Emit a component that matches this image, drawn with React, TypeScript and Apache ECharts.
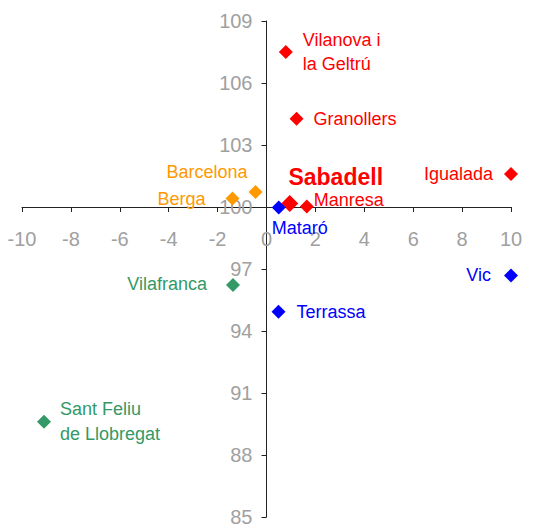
import React, { useEffect, useRef } from "react";
import * as echarts from "echarts";

// Data
const cities = [
  "Vilanova i\nla Geltrú",
  "Granollers",
  "Igualada",
  "Sabadell",
  "Manresa",
  "Mataró",
  "Barcelona",
  "Berga",
  "Vilafranca",
  "Terrassa",
  "Vic",
  "Sant Feliu\nde Llobregat",
];
const xValues = [0.79, 1.23, 10.0, 0.95, 1.65, 0.5, -0.45, -1.39, -1.37, 0.49, 10.0, -9.1];
const yValues = [107.5, 104.27, 101.6, 100.17, 100.02, 99.98, 100.73, 100.41, 96.22, 94.93, 96.69, 89.61];
const groups = ["red", "red", "red", "red", "red", "blue", "orange", "orange", "green", "blue", "blue", "green"];

const xTicks = { min: -10, max: 10, step: 2, cross: 0 };
const yTicks = { min: 85, max: 109, step: 3, cross: 100 };

const COLORS: Record<string, string> = {
  red: "#ff0000",
  orange: "#ff9900",
  blue: "#0000ff",
  green: "#339966",
};

const FONT = "Arial, 'Liberation Sans', sans-serif";

const W = 558;
const H = 525;
const GRID = { left: 22, right: 47, top: 21, bottom: 8 };

// label placement per city (style only)
const labelStyle: Record<string, any> = {
  "Vilanova i\nla Geltrú": { position: "right", distance: 10, lineHeight: 24 },
  Granollers: { position: "right", distance: 10 },
  Igualada: { position: "left", distance: 11 },
  Sabadell: { position: "top", distance: 6, offset: [46, 0], fontSize: 23, fontWeight: "bold" },
  Manresa: { position: "right", distance: 0, offset: [0, -7] },
  "Mataró": { position: "bottom", distance: 5, offset: [21, 0] },
  Barcelona: { position: "left", distance: 1, offset: [0, -20] },
  Berga: { position: "left", distance: 20 },
  Vilafranca: { position: "left", distance: 19, offset: [0, -1] },
  Terrassa: { position: "right", distance: 11 },
  Vic: { position: "left", distance: 13 },
  "Sant Feliu\nde Llobregat": { position: "right", distance: 9, lineHeight: 25 },
};

export default function App() {
  const ref = useRef<HTMLDivElement>(null);
  useEffect(() => {
    if (!ref.current) return;
    const chart = echarts.init(ref.current, undefined, { renderer: "svg" });
    const gw = W - GRID.left - GRID.right;
    const gh = H - GRID.top - GRID.bottom;
    // shift the axes so that they cross at (xTicks.cross, yTicks.cross)
    const yAxisOffset = -((xTicks.cross - xTicks.min) / (xTicks.max - xTicks.min)) * gw;
    const xAxisOffset = -((yTicks.cross - yTicks.min) / (yTicks.max - yTicks.min)) * gh;
    const data = cities.map((name, i) => {
      const color = COLORS[groups[i]];
      const ls = labelStyle[name] || {};
      const big = name === "Sabadell";
      return {
        name,
        value: [xValues[i], yValues[i]],
        symbolSize: big ? 17 : 14,
        itemStyle: { color, opacity: 1 },
        label: {
          show: true,
          formatter: name,
          color,
          fontSize: 18,
          fontFamily: FONT,
          ...ls,
        },
      };
    });
    chart.setOption({
      animation: false,
      grid: { ...GRID, containLabel: false, outerBoundsMode: "none" },
      xAxis: {
        type: "value",
        min: xTicks.min,
        max: xTicks.max,
        interval: xTicks.step,
        offset: xAxisOffset,
        splitLine: { show: false },
        axisLine: { show: true, onZero: false, lineStyle: { color: "#222", width: 1 } },
        axisTick: { show: true, length: 5, lineStyle: { color: "#222" } },
        axisLabel: {
          show: true,
          margin: 22,
          color: "#a0a0a0",
          fontSize: 20,
          fontFamily: FONT,
          showMinLabel: true,
          showMaxLabel: true,
        },
      },
      yAxis: {
        type: "value",
        min: yTicks.min,
        max: yTicks.max,
        interval: yTicks.step,
        offset: yAxisOffset,
        splitLine: { show: false },
        axisLine: { show: true, onZero: false, lineStyle: { color: "#222", width: 1 } },
        axisTick: { show: true, length: 5, lineStyle: { color: "#222" } },
        axisLabel: {
          show: true,
          margin: 14,
          color: "#a0a0a0",
          fontSize: 20,
          fontFamily: FONT,
          showMinLabel: true,
          showMaxLabel: true,
        },
      },
      series: [
        {
          type: "scatter",
          symbol: "diamond",
          clip: false,
          itemStyle: { opacity: 1 },
          data,
        },
      ],
    });
    return () => chart.dispose();
  }, []);
  return (
    <div
      ref={ref}
      style={{ position: "fixed", left: 0, top: 0, width: W, height: H, background: "#fff" }}
    />
  );
}
